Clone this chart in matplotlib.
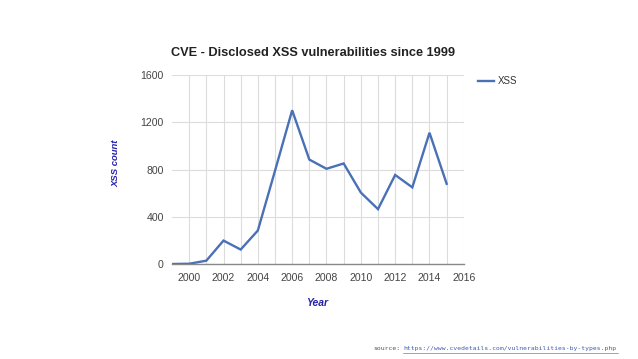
import matplotlib
matplotlib.use("Agg")
import matplotlib.pyplot as plt

years = [1999, 2000, 2001, 2002, 2003, 2004, 2005, 2006, 2007, 2008,
         2009, 2010, 2011, 2012, 2013, 2014, 2015]
xss = [2, 4, 30, 200, 124, 285, 790, 1302, 885, 807,
       852, 606, 466, 755, 650, 1112, 680]
yticks = [0, 400, 800, 1200, 1600]
xticks = [2000, 2002, 2004, 2006, 2008, 2010, 2012, 2014, 2016]

line_color = "#4a70b6"
label_color = "#2323a8"

fig = plt.figure(figsize=(6.38, 3.59), dpi=100)
ax = fig.add_axes([0.2696, 0.264, 0.727 - 0.2696, 0.791 - 0.264])

ax.plot(years, xss, color=line_color, lw=1.7, label="XSS", solid_joinstyle="miter")
ax.set_xlim(1999, 2016)
ax.set_ylim(0, 1600)
ax.set_yticks(yticks)
ax.set_xticks(xticks)
ax.set_xticks(range(2000, 2017), minor=True)
ax.grid(True, which="both", axis="x", color="#dcdcdc", lw=0.8)
ax.grid(True, which="major", axis="y", color="#dcdcdc", lw=0.8)
ax.set_axisbelow(True)
for s in ["top", "right", "left"]:
    ax.spines[s].set_visible(False)
ax.spines["bottom"].set_color("#888888")
ax.spines["bottom"].set_linewidth(1.0)
ax.tick_params(axis="both", which="both", length=0, labelsize=7.6, labelcolor="#444444")
ax.tick_params(axis="x", pad=6)
ax.tick_params(axis="y", pad=6)
for lab in ax.get_xticklabels() + ax.get_yticklabels():
    lab.set_family("Liberation Sans")

fig.text(0.491, 0.852, "CVE - Disclosed XSS vulnerabilities since 1999", ha="center",
         va="center", fontsize=9.2, fontweight="bold", family="Liberation Sans",
         color="#222222")
fig.text(0.182, 0.545, "XSS count", rotation=90, ha="center", va="center",
         fontsize=6.8, fontweight="bold", fontstyle="italic", family="Liberation Sans",
         color=label_color)
fig.text(0.497, 0.156, "Year", ha="center", va="center", fontsize=7.5,
         fontweight="bold", fontstyle="italic", family="Liberation Sans",
         color=label_color)

leg = ax.legend(loc="upper left", bbox_to_anchor=(1.02, 1.04), frameon=False,
                handlelength=1.6, handletextpad=0.4,
                prop={"family": "Liberation Sans", "size": 7})
for t in leg.get_texts():
    t.set_color("#333333")

fig.text(0.585, 0.028, "source:", ha="left", va="center", fontsize=4.6,
         family="DejaVu Sans Mono", color="#555555")
fig.text(0.632, 0.028, "https://www.cvedetails.com/vulnerabilities-by-types.php",
         ha="left", va="center", fontsize=4.6, family="DejaVu Sans Mono",
         color="#3b5fb0", url="https://www.cvedetails.com/vulnerabilities-by-types.php")
fig.add_artist(plt.Line2D([0.632, 0.968], [0.016, 0.016], transform=fig.transFigure,
                          color="#3b5fb0", lw=0.4))

fig.savefig("out.png", dpi=100)
